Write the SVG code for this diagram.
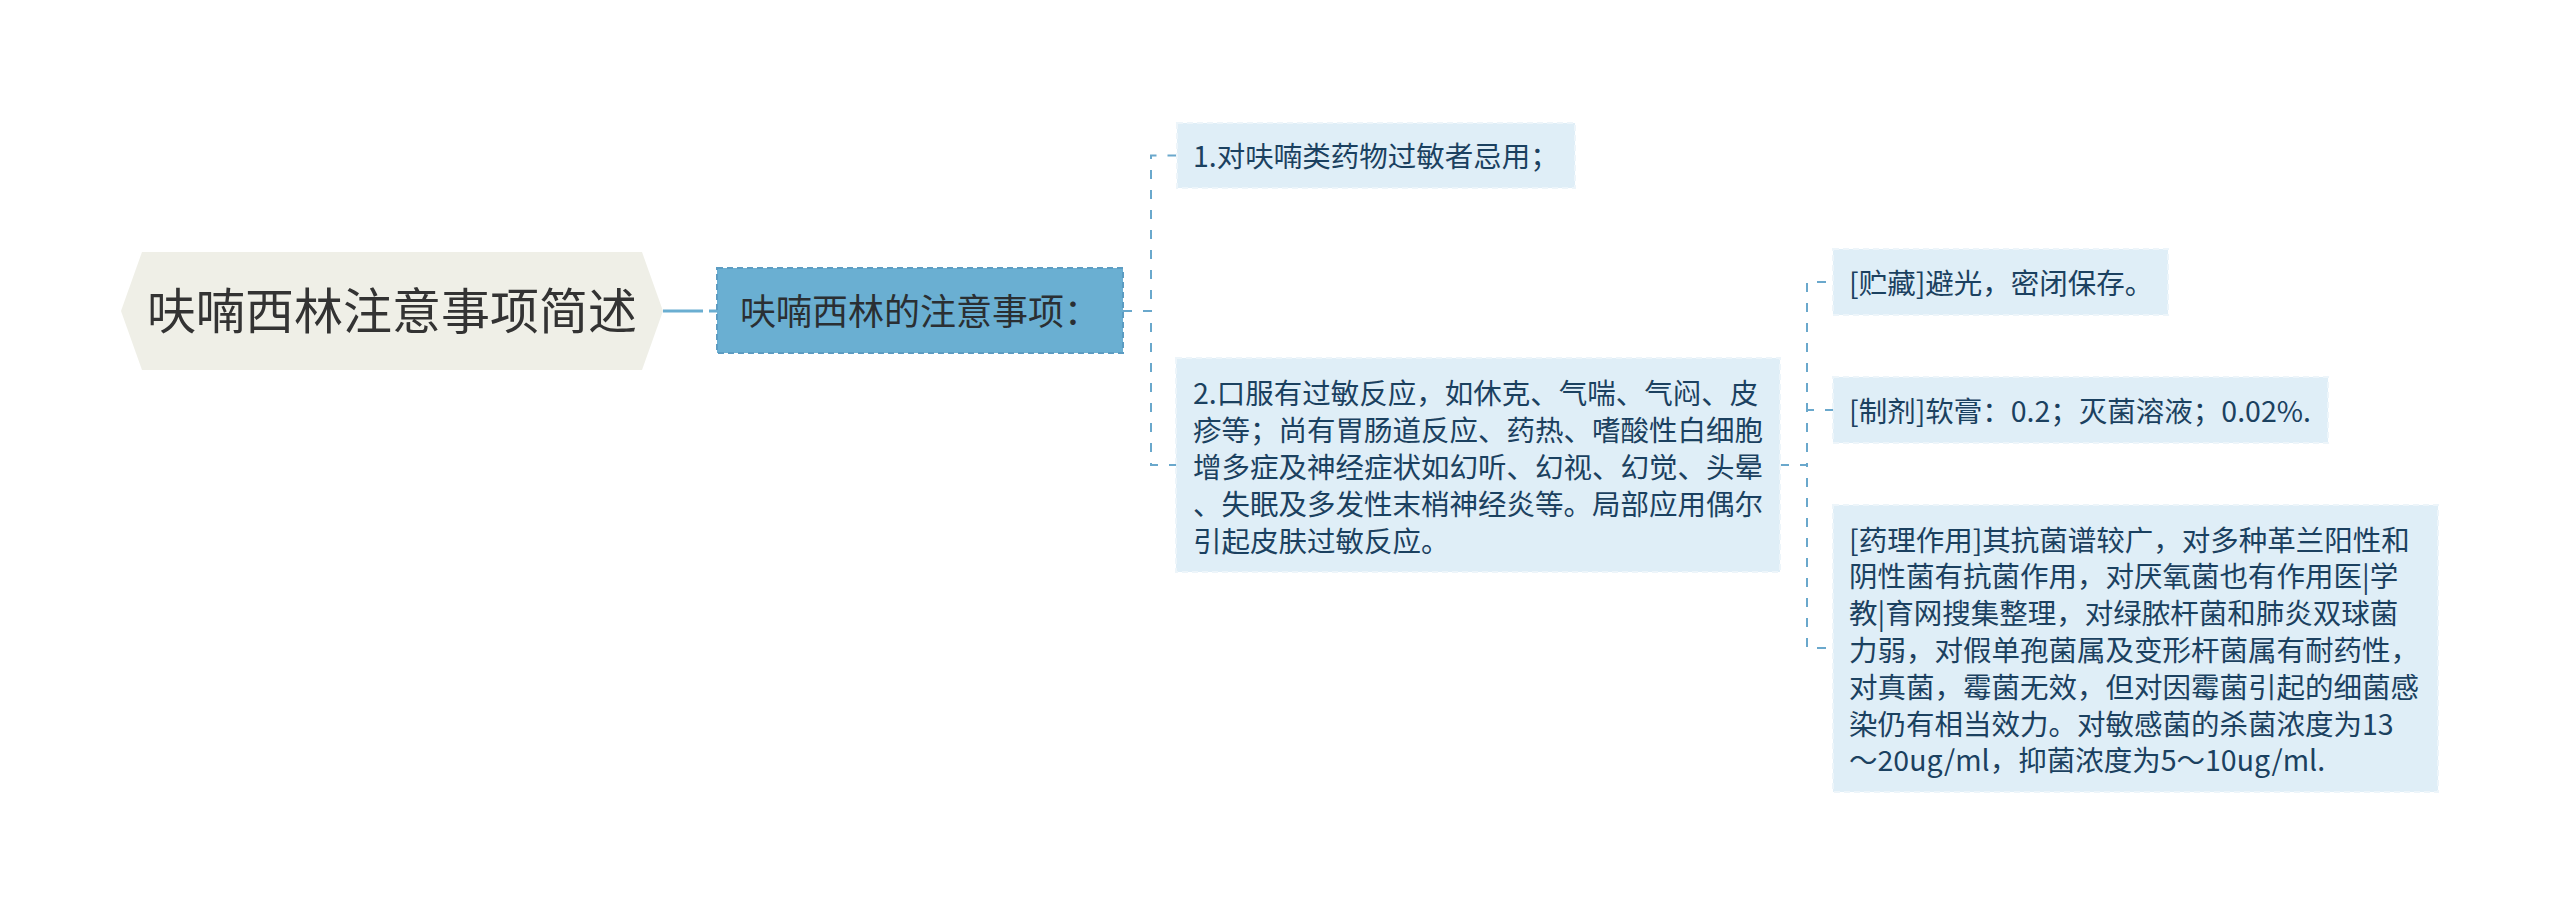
<svg xmlns="http://www.w3.org/2000/svg" width="2560" height="915" viewBox="0 0 2560 915">
  <style>
    .cn { fill: none; stroke: #6aa8cc; stroke-width: 2; stroke-dasharray: 9 11; }
    .main { fill: none; stroke: #6aaed1; stroke-width: 3; stroke-dasharray: 40 6; }
    .leaf { fill: #dfeef7; stroke: #edf5fa; stroke-width: 2; stroke-dasharray: 6 4; }
    .lt { font-family: "Noto Sans CJK SC", "Noto Sans", sans-serif; font-size: 28.5px; fill: #1b4160; }
    .rt { font-family: "Noto Sans CJK SC", "Noto Sans", sans-serif; font-size: 49px; fill: #333333; }
    .st { font-family: "Noto Sans CJK SC", "Noto Sans", sans-serif; font-size: 36px; fill: #2a2f33; }
  </style>
  <rect width="2560" height="915" fill="#ffffff"/>
  <g id="connectors">
    <path class="main" d="M663,311 H717"/>
    <path class="cn" d="M1123,311 H1151 V155.5 H1177"/>
    <path class="cn" d="M1123,311 H1151 V465 H1176"/>
    <path class="cn" d="M1780,465 H1807 V282 H1833"/>
    <path class="cn" d="M1780,465 H1807 V410 H1833"/>
    <path class="cn" d="M1780,465 H1807 V648 H1833"/>
  </g>
  <g id="root">
    <polygon points="121,311 142,252 642,252 663,311 642,370 142,370" fill="#efefe7"/>
    <text class="rt" x="392" y="329" text-anchor="middle">呋喃西林注意事项简述</text>
  </g>
  <g id="node-main">
    <rect x="717" y="268" width="406" height="85" fill="#6aafd2" stroke="#5c9cc2" stroke-width="2" stroke-dasharray="6 4"/>
    <text class="st" x="920" y="325" text-anchor="middle">呋喃西林的注意事项：</text>
  </g>
  <g id="leaf1">
    <rect class="leaf" x="1177" y="123" width="398" height="65"/>
    <text class="lt" x="1193" y="166.5">1.对呋喃类药物过敏者忌用；</text>
  </g>
  <g id="leaf2">
    <rect class="leaf" x="1176" y="358" width="604" height="214"/>
    <text class="lt" x="1193" y="404">2.口服有过敏反应，如休克、气喘、气闷、皮</text>
    <text class="lt" x="1193" y="440.9">疹等；尚有胃肠道反应、药热、嗜酸性白细胞</text>
    <text class="lt" x="1193" y="477.8">增多症及神经症状如幻听、幻视、幻觉、头晕</text>
    <text class="lt" x="1193" y="514.7">、失眠及多发性末梢神经炎等。局部应用偶尔</text>
    <text class="lt" x="1193" y="551.6">引起皮肤过敏反应。</text>
  </g>
  <g id="leaf3">
    <rect class="leaf" x="1833" y="249" width="335" height="66"/>
    <text class="lt" x="1849" y="294">[贮藏]避光，密闭保存。</text>
  </g>
  <g id="leaf4">
    <rect class="leaf" x="1833" y="377" width="495" height="66"/>
    <text class="lt" x="1849" y="422">[制剂]软膏：0.2；灭菌溶液；0.02%.</text>
  </g>
  <g id="leaf5">
    <rect class="leaf" x="1833" y="505" width="605" height="287"/>
    <text class="lt" x="1849" y="550.5">[药理作用]其抗菌谱较广，对多种革兰阳性和</text>
    <text class="lt" x="1849" y="587.3">阴性菌有抗菌作用，对厌氧菌也有作用医|学</text>
    <text class="lt" x="1849" y="624.1">教|育网搜集整理，对绿脓杆菌和肺炎双球菌</text>
    <text class="lt" x="1849" y="660.9">力弱，对假单孢菌属及变形杆菌属有耐药性，</text>
    <text class="lt" x="1849" y="697.7">对真菌，霉菌无效，但对因霉菌引起的细菌感</text>
    <text class="lt" x="1849" y="734.5">染仍有相当效力。对敏感菌的杀菌浓度为13</text>
    <text class="lt" x="1849" y="771.3">～20ug/ml，抑菌浓度为5～10ug/ml.</text>
  </g>
</svg>
